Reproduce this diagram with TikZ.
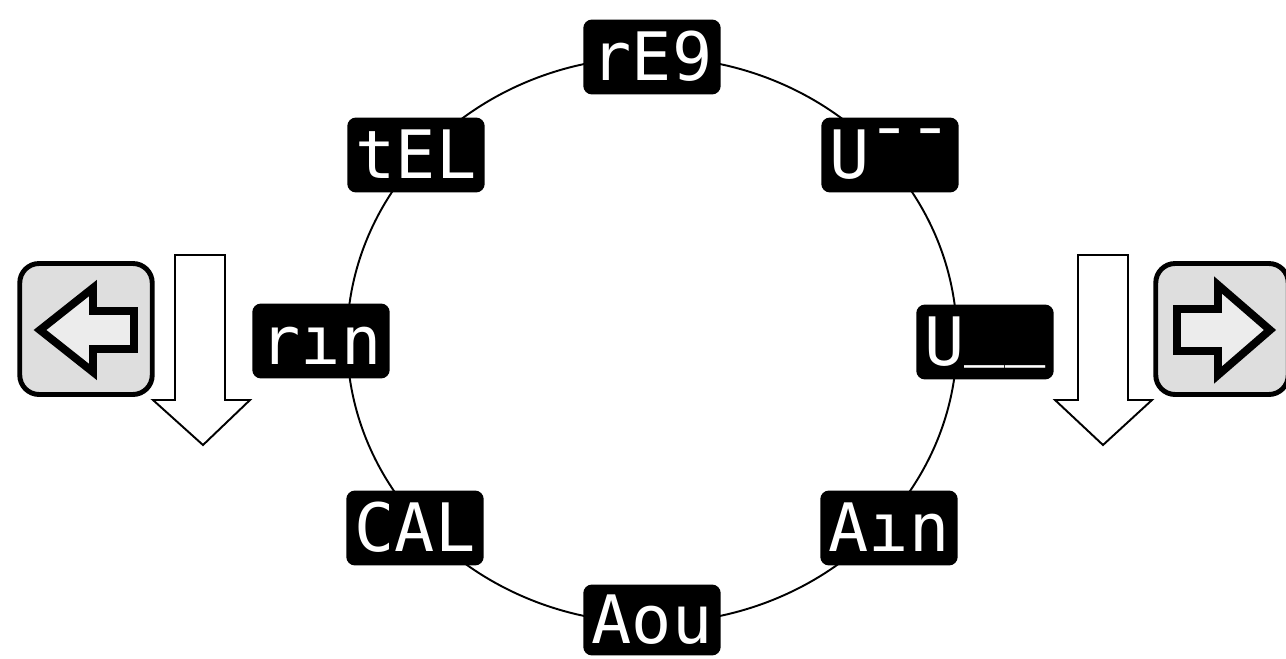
\documentclass[tikz,border=0pt]{standalone}
\usepackage{fontspec}
\newfontfamily\segfont{DejaVu Sans Mono}
\usetikzlibrary{positioning}
\definecolor{keygray}{RGB}{222,222,222}
\definecolor{keyink}{RGB}{236,236,236}
\tikzset{
  lcd/.style={
    fill=black, rounded corners=5pt, text=white, inner sep=0pt,
    font=\segfont\fontsize{38}{38}\selectfont,
    text height=27pt, text depth=0pt,
    minimum width=2.75cm, minimum height=1.5cm
  },
  ring/.style={draw=black, line width=1.1pt},
  keybox/.style={
    draw=black, fill=keygray, line width=2.8pt, rounded corners=11pt,
    minimum width=2.65cm, minimum height=2.62cm
  },
  keyarrow/.style={draw=black, fill=keyink, line width=4.5pt, line join=miter},
  downarrow/.style={draw=black, fill=white, line width=1.1pt, line join=miter}
}
\begin{document}
\begin{tikzpicture}[x=0.02cm, y=-0.02cm]
  \useasboundingbox (0,0) rectangle (1286,659);
  \coordinate (mid) at (652,340);
  \draw[ring] (mid) ellipse [x radius=305, y radius=283];
  % displays round the ring
  \node[lcd] (reg) at (652,57) {rE9};
  \node[lcd] (tel) at (416,155) {tEL};
  \node[lcd] (uhi) at (890,155) {U¯¯};
  \node[lcd] (min) at (321,341) {rın};
  \node[lcd] (ulo) at (985,342) {U\raisebox{0.2em}{\_\_}};
  \node[lcd] (cal) at (415,528) {CAL};
  \node[lcd] (ain) at (889,528) {Aın};
  \node[lcd, minimum height=1.42cm] (aou) at (652,620) {Aou};
  % keys
  \node[keybox] (keyl) at (86,329) {};
  \node[keybox] (keyr) at (1222,329) {};
  \draw[keyarrow] (40,330) -- (93,288) -- (93,311) -- (134,311) -- (134,349)
    -- (93,349) -- (93,372) -- cycle;
  \draw[keyarrow] (1270,330) -- (1218,285) -- (1218,309) -- (1177,309)
    -- (1177,351) -- (1218,351) -- (1218,375) -- cycle;
  % scroll direction
  \draw[downarrow] (175,255) -- (225,255) -- (225,400) -- (250,400)
    -- (203,445) -- (153,400) -- (175,400) -- cycle;
  \draw[downarrow] (1078,255) -- (1128,255) -- (1128,400) -- (1152,400)
    -- (1103,445) -- (1055,400) -- (1078,400) -- cycle;
\end{tikzpicture}
\end{document}
